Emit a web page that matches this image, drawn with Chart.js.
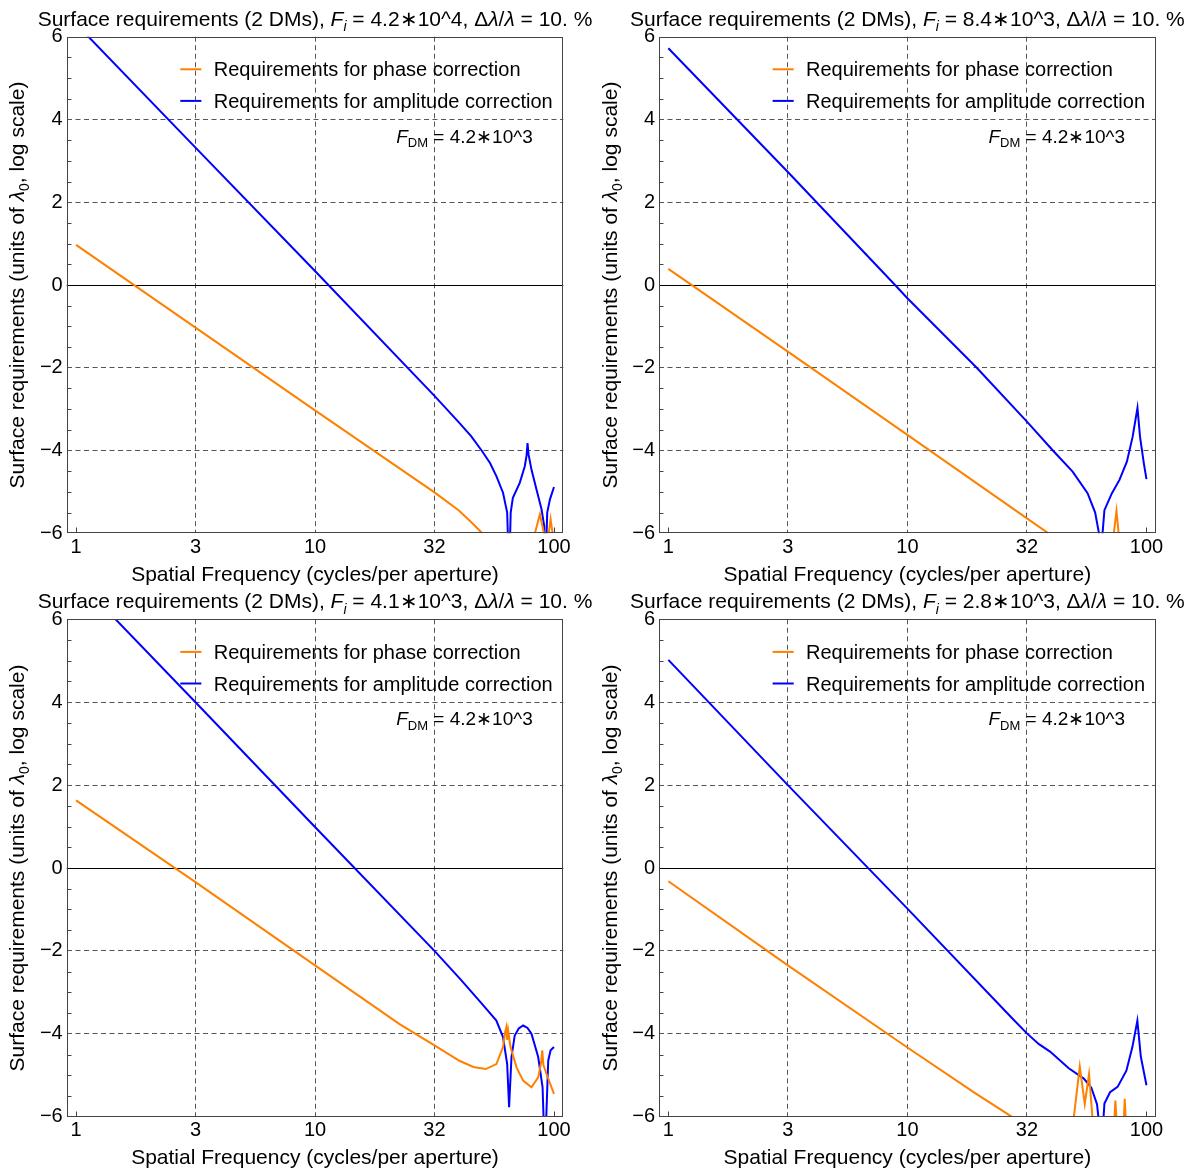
<!DOCTYPE html>
<html>
<head>
<meta charset="utf-8">
<script src="https://cdn.jsdelivr.net/npm/chart.js@4.4.0/dist/chart.umd.min.js"></script>
<style>
  html, body { margin: 0; padding: 0; background: #fff; }
  #wrap { position: relative; width: 1188px; height: 1173px; overflow: hidden; }
  canvas { position: absolute; }
</style>
</head>
<body>
<div id="wrap">
  <canvas id="c0" width="594" height="600" style="left:0;top:0"></canvas>
  <canvas id="c1" width="594" height="600" style="left:594px;top:0"></canvas>
  <canvas id="c2" width="594" height="590" style="left:0;top:583px"></canvas>
  <canvas id="c3" width="594" height="590" style="left:594px;top:583px"></canvas>
</div>
<script>
// axis ticks
const freqTicks = [1, 3.1623, 10, 31.623, 100];
const freqTickLabels = ['1', '3', '10', '32', '100'];
const reqTicks = [-6, -4, -2, 0, 2, 4, 6];

const panelFi = ['4.2\u221710^4', '8.4\u221710^3', '4.1\u221710^3', '2.8\u221710^3'];
const panelFdm = '4.2\u221710^3';
const seriesLabels = ['Requirements for phase correction', 'Requirements for amplitude correction'];

// top left, F_i = 4.2*10^4
const phaseFreqA = [1, 3.162, 10, 31.62, 40, 46, 50.1, 60, 83.2, 87.3, 90.8, 93, 95.1, 96.8, 98.7];
const phaseReqA  = [0.97, -1.03, -3.03, -5.01, -5.45, -5.78, -6.0, null, -6.0, -5.54, -6.0, null, -6.0, -5.66, -6.0];
const ampFreqA = [1, 3.162, 10, 31.62, 40, 45, 49.8, 54, 57.4, 61.2, 63.7, 64.9, 65.9, 67.3, 71.9, 75.5, 76.8, 77.5, 78.3, 80.5, 84.5, 88.7, 91, 92, 93.7, 96.2, 100];
const ampReqA  = [6.31, 3.32, 0.34, -2.68, -3.32, -3.65, -4.0, -4.3, -4.62, -5.02, -5.5, -7, -5.5, -5.14, -4.78, -4.38, -4.12, -3.82, -4.1, -4.46, -4.94, -5.42, -5.82, -7, -5.5, -5.18, -4.88];

// top right, F_i = 8.4*10^3
const phaseFreqB = [1, 3.162, 10, 31.62, 38.9, 50, 73, 74.9, 76.5];
const phaseReqB  = [0.39, -1.61, -3.62, -5.64, -6.0, null, -6.0, -5.46, -6.0];
const ampFreqB = [1, 3.162, 8.88, 10, 19.5, 31.62, 40.6, 49.1, 56.7, 61, 63.3, 64.3, 65.5, 66.7, 71.7, 77.1, 82.8, 87.5, 91.7, 94, 97.5, 100];
const ampReqB  = [5.72, 2.73, 0, -0.32, -2, -3.3, -4.0, -4.51, -5.03, -5.5, -6, -7, -6, -5.44, -5.03, -4.71, -4.27, -3.67, -2.97, -3.67, -4.31, -4.69];

// bottom left, F_i = 4.1*10^3
const phaseFreqC = [1, 3.162, 10, 22.5, 31.62, 40.2, 46, 51.8, 57.4, 61.2, 62.5, 63.2, 63.7, 64.3, 65.8, 69.7, 74.3, 80.5, 85.9, 88.3, 89.3, 90.3, 93.1, 100];
const phaseReqC  = [1.63, -0.34, -2.35, -3.76, -4.28, -4.65, -4.8, -4.85, -4.73, -4.32, -3.95, -3.84, -4.15, -3.92, -4.32, -4.81, -5.13, -5.29, -5.05, -4.7, -4.4, -4.75, -4.97, -5.45];
const ampFreqC = [1, 3.162, 10, 31.62, 41, 50.5, 57.4, 61.2, 63.7, 64.9, 66.4, 68.5, 71.2, 74.3, 77.5, 80.5, 85.9, 89.6, 91.6, 94.6, 96.8, 100];
const ampReqC  = [6.99, 4.0, 0.99, -2.0, -2.71, -3.31, -3.68, -4.08, -4.73, -5.77, -4.56, -4.04, -3.87, -3.8, -3.86, -4.0, -4.56, -5.29, -7, -4.65, -4.4, -4.32];

// bottom right, F_i = 2.8*10^3
const phaseFreqD = [1, 3.162, 10, 19.2, 27.3, 40, 49.7, 52.6, 55.2, 57.5, 59.4, 65, 73.5, 74.1, 74.8, 78, 80.5, 81.1, 81.8];
const phaseReqD  = [-0.32, -2.35, -4.33, -5.43, -6.0, null, -6.0, -4.79, -5.69, -4.97, -6.0, null, -6.0, -5.61, -6.0, null, -6.0, -5.57, -6.0];
const ampFreqD = [1, 3.162, 10, 28, 31.62, 35.5, 39.5, 47.3, 54.7, 58.8, 62.1, 63.2, 64.6, 66, 66.7, 70.4, 75.7, 82.4, 87.3, 91.6, 94.7, 100];
const ampReqD  = [5.02, 2.0, -0.98, -3.68, -3.99, -4.25, -4.43, -4.83, -5.08, -5.3, -5.7, -6.1, -7, -6.1, -5.68, -5.41, -5.28, -4.89, -4.32, -3.68, -4.55, -5.24];

const ORANGE = '#ff8000';
const BLUE = '#0000ff';
const FONT = '"Liberation Sans", Arial, Helvetica, sans-serif';
const SIZE = 20;      // legend, ticks
const BIG = 21;       // title, axis titles

function toPoints(xs, ys) {
  return xs.map((v, i) => ({ x: v, y: ys[i] }));
}

function partFont(p, size) {
  const s = p.sub ? Math.round(size * 0.68) : size;
  return (p.it ? 'italic ' : '') + s + 'px ' + FONT;
}

function richWidth(ctx, parts, size) {
  let w = 0;
  parts.forEach(p => { ctx.font = partFont(p, size); w += ctx.measureText(p.t).width; });
  return w;
}

// draws mixed italic / subscript text on the alphabetic baseline
function drawRich(ctx, parts, x, y, align, size) {
  const w = richWidth(ctx, parts, size);
  let cx = align === 'center' ? x - w / 2 : align === 'right' ? x - w : x;
  ctx.textAlign = 'left';
  ctx.textBaseline = 'alphabetic';
  parts.forEach(p => {
    ctx.font = partFont(p, size);
    ctx.fillText(p.t, cx, y + (p.sub ? size * 0.25 : 0));
    cx += ctx.measureText(p.t).width;
  });
}

const paperPlugin = {
  id: 'paper',
  beforeDatasetsDraw(chart) {
    const { ctx, chartArea: a, scales: { y } } = chart;
    const y0 = Math.round(y.getPixelForValue(0)) + 0.5;
    ctx.save();
    ctx.strokeStyle = '#000';
    ctx.lineWidth = 1;
    ctx.beginPath();
    ctx.moveTo(a.left, y0);
    ctx.lineTo(a.right, y0);
    ctx.stroke();
    ctx.restore();
  },
  afterDraw(chart) {
    const { ctx, chartArea: a, scales: { x, y } } = chart;
    const opts = chart.options.plugins.paper;
    ctx.save();

    // frame
    const L = Math.round(a.left) + 0.5, R = Math.round(a.right) - 0.5;
    const T = Math.round(a.top) + 0.5, B = Math.round(a.bottom) - 0.5;
    ctx.strokeStyle = '#444';
    ctx.lineWidth = 1;
    ctx.strokeRect(L, T, R - L, B - T);

    // small inward ticks
    ctx.beginPath();
    for (let v = -5.5; v < 6; v += 0.5) {
      if (v % 2 === 0) continue;
      const py = Math.round(y.getPixelForValue(v)) + 0.5;
      ctx.moveTo(L, py);
      ctx.lineTo(L + 4, py);
    }
    [freqTicks[0], freqTicks[freqTicks.length - 1]].forEach(v => {
      const px = Math.round(x.getPixelForValue(v)) + 0.5;
      ctx.moveTo(px, B);
      ctx.lineTo(px, B - 5);
    });
    ctx.stroke();

    ctx.fillStyle = '#000';
    const cx = (a.left + a.right) / 2;

    // title
    drawRich(ctx, [
      { t: 'Surface requirements (2 DMs), ' },
      { t: 'F', it: true }, { t: 'i', it: true, sub: true },
      { t: ' = ' + opts.fi + ', \u0394' }, { t: '\u03bb', it: true }, { t: '/' }, { t: '\u03bb', it: true },
      { t: ' = 10. %' }
    ], cx, a.top - 11, 'center', BIG);

    // legend
    chart.data.datasets.forEach((ds, i) => {
      const ly = a.top + 32.6 + i * 31.6;
      ctx.strokeStyle = ds.borderColor;
      ctx.lineWidth = 2;
      ctx.beginPath();
      ctx.moveTo(a.left + 113.6, ly);
      ctx.lineTo(a.left + 134.7, ly);
      ctx.stroke();
      drawRich(ctx, [{ t: ds.label }], a.left + 147, ly + 7, 'left', SIZE);
    });

    // F_DM note
    drawRich(ctx, [
      { t: 'F', it: true }, { t: 'DM', sub: true }, { t: ' = ' + panelFdm }
    ], a.left + 466, a.top + 106, 'right', 19);

    // x axis title
    drawRich(ctx, [{ t: 'Spatial Frequency (cycles/per aperture)' }], cx, a.bottom + 47.5, 'center', BIG);

    // y axis title
    ctx.translate(a.left - 42.5, (a.top + a.bottom) / 2);
    ctx.rotate(-Math.PI / 2);
    drawRich(ctx, [
      { t: 'Surface requirements (units of ' },
      { t: '\u03bb', it: true }, { t: '0', sub: true },
      { t: ', log scale)' }
    ], 0, 0, 'center', BIG);

    ctx.restore();
  }
};

const panels = [
  { id: 'c0', fi: panelFi[0], pad: { left: 66.7, right: 30.7, top: 36.7, bottom: 66.7 }, phase: [phaseFreqA, phaseReqA], amp: [ampFreqA, ampReqA] },
  { id: 'c1', fi: panelFi[1], pad: { left: 65, right: 32.2, top: 36.7, bottom: 66.7 }, phase: [phaseFreqB, phaseReqB], amp: [ampFreqB, ampReqB] },
  { id: 'c2', fi: panelFi[2], pad: { left: 66.7, right: 30.7, top: 36.3, bottom: 56.3 }, phase: [phaseFreqC, phaseReqC], amp: [ampFreqC, ampReqC] },
  { id: 'c3', fi: panelFi[3], pad: { left: 65, right: 32.2, top: 36.3, bottom: 56.3 }, phase: [phaseFreqD, phaseReqD], amp: [ampFreqD, ampReqD] }
];

const noPad = s => { s.paddingLeft = 0; s.paddingRight = 0; s.paddingTop = 0; s.paddingBottom = 0; };

panels.forEach(panel => {
  const ctx = document.getElementById(panel.id).getContext('2d');
  new Chart(ctx, {
    type: 'line',
    data: {
      datasets: [
        { label: seriesLabels[0], data: toPoints(panel.phase[0], panel.phase[1]), borderColor: ORANGE, borderWidth: 2, pointRadius: 0, tension: 0, spanGaps: false, clip: 0 },
        { label: seriesLabels[1], data: toPoints(panel.amp[0], panel.amp[1]), borderColor: BLUE, borderWidth: 2, pointRadius: 0, tension: 0, spanGaps: false, clip: 0 }
      ]
    },
    options: {
      responsive: false,
      animation: false,
      events: [],
      layout: { padding: { left: 0, right: panel.pad.right, top: panel.pad.top, bottom: 0 }, autoPadding: false },
      plugins: {
        legend: { display: false },
        title: { display: false },
        tooltip: { enabled: false },
        paper: { fi: panel.fi }
      },
      scales: {
        x: {
          type: 'logarithmic',
          min: 0.914,
          max: 109.4,
          afterBuildTicks: s => { s.ticks = freqTicks.map(v => ({ value: v })); },
          afterFit: s => { s.height = panel.pad.bottom; noPad(s); },
          ticks: {
            autoSkip: false, maxRotation: 0, padding: 2, color: '#000',
            font: { family: FONT, size: SIZE },
            callback: (v, i) => freqTickLabels[i]
          },
          grid: {
            drawTicks: false, lineWidth: 1,
            color: c => (c.tick && c.tick.value > 1.5 && c.tick.value < 90) ? '#555' : 'rgba(0,0,0,0)'
          },
          border: { display: false, dash: [5, 3.5] }
        },
        y: {
          type: 'linear',
          min: -6,
          max: 6,
          afterBuildTicks: s => { s.ticks = reqTicks.map(v => ({ value: v })); },
          afterFit: s => { s.width = panel.pad.left; noPad(s); },
          ticks: {
            padding: 4, color: '#000',
            font: { family: FONT, size: SIZE },
            callback: v => v < 0 ? '\u2212' + Math.abs(v) : String(v)
          },
          grid: {
            drawTicks: false, lineWidth: 1,
            color: c => (c.tick && c.tick.value !== 0 && Math.abs(c.tick.value) < 6) ? '#555' : 'rgba(0,0,0,0)'
          },
          border: { display: false, dash: [5, 3.5] }
        }
      }
    },
    plugins: [paperPlugin]
  });
});
</script>
</body>
</html>
